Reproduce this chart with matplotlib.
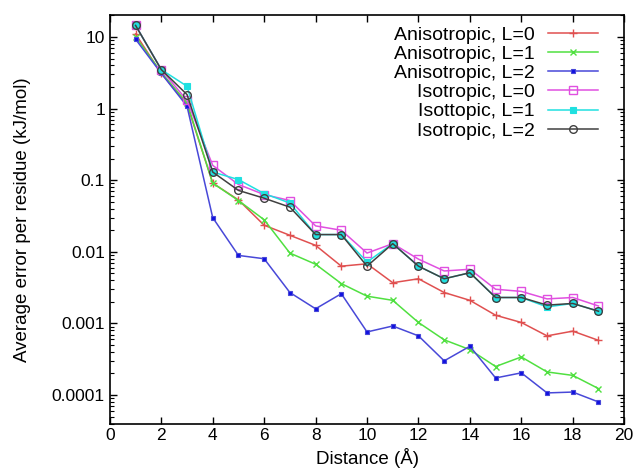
import numpy as np
import matplotlib
matplotlib.use("Agg")
from matplotlib import pyplot as plt
from matplotlib.ticker import LogLocator, FixedLocator, NullFormatter

plt.rcParams['font.family'] = ['Liberation Sans', 'DejaVu Sans']

distance = [1, 2, 3, 4, 5, 6, 7, 8, 9, 10, 11, 12, 13, 14, 15, 16, 17, 18, 19]

aniso_L0 = [11.0, 3.1, 1.15, 0.091, 0.053, 0.0235, 0.017, 0.0123, 0.0063, 0.0068,
            0.0037, 0.0042, 0.0027, 0.0021, 0.0013, 0.00103, 0.00067, 0.00078, 0.00058]
aniso_L1 = [10.0, 3.2, 1.2, 0.091, 0.052, 0.028, 0.0096, 0.0067, 0.0036, 0.0024,
            0.0021, 0.00103, 0.00059, 0.00043, 0.00025, 0.00034, 0.00021, 0.000188, 0.000123]
aniso_L2 = [9.3, 3.1, 1.08, 0.030, 0.0089, 0.008, 0.0027, 0.0016, 0.0026, 0.00076,
            0.00092, 0.00067, 0.0003, 0.00048, 0.000173, 0.000204, 0.000107, 0.00011, 0.00008]
iso_L0 = [14.5, 3.5, 1.3, 0.161, 0.087, 0.063, 0.052, 0.023, 0.020, 0.0096,
          0.013, 0.0079, 0.0054, 0.0057, 0.0030, 0.0028, 0.0022, 0.0023, 0.00175]
iso_L1 = [14.5, 3.5, 2.05, 0.13, 0.102, 0.065, 0.048, 0.0174, 0.0174, 0.0072,
          0.013, 0.0063, 0.0042, 0.0051, 0.0023, 0.0023, 0.0017, 0.0019, 0.00148]
iso_L2 = [14.5, 3.5, 1.57, 0.13, 0.072, 0.056, 0.042, 0.0174, 0.0174, 0.0063,
          0.013, 0.0063, 0.0042, 0.0051, 0.0023, 0.0023, 0.0018, 0.0019, 0.00148]

fig = plt.figure(figsize=(6.35, 4.74), dpi=100)
ax = fig.add_axes([0.173, 0.1065, 0.81, 0.861])

ax.plot(distance, aniso_L0, color='#e05050', marker='+', ms=6, mew=1.0, lw=1.1,
        label='Anisotropic, L=0')
ax.plot(distance, aniso_L1, color='#50e040', marker='x', ms=4.5, mew=1.0, lw=1.1,
        label='Anisotropic, L=1')
ax.plot(distance, aniso_L2, color='#4848d8', marker='s', ms=3.5, mew=0.8, lw=1.1,
        markerfacecolor='#1010e0', label='Anisotropic, L=2')
ax.plot(distance, iso_L0, color='#e050e0', marker='s', ms=5.5, mew=1.0, lw=1.1,
        markerfacecolor='none', label='Isotropic, L=0')
ax.plot(distance, iso_L1, color='#20e0e0', marker='s', ms=4.5, mew=0.8, lw=1.1,
        label='Isottopic, L=1')
ax.plot(distance, iso_L2, color='#404040', marker='o', ms=5.5, mew=1.0, lw=1.1,
        markerfacecolor='none', label='Isotropic, L=2')

ax.set_yscale('log')
ax.set_xlim(0, 20)
ax.set_ylim(4e-5, 20)
ax.xaxis.set_major_locator(FixedLocator(np.arange(0, 21, 2)))
ax.yaxis.set_minor_locator(LogLocator(base=10, subs=np.arange(2, 10), numticks=20))
ax.yaxis.set_minor_formatter(NullFormatter())
ax.set_yticks([1e-4, 1e-3, 1e-2, 1e-1, 1, 10])
ax.set_yticklabels(['0.0001', '0.001', '0.01', '0.1', '1', '10'])

ax.tick_params(which='both', direction='in', top=True, right=True, labelsize=12.5)
ax.tick_params(which='major', length=5, width=1)
ax.tick_params(which='minor', length=3, width=0.8)
for s in ax.spines.values():
    s.set_linewidth(1.2)

ax.set_xlabel('Distance (Å)', fontsize=13.5, labelpad=3)
ax.set_ylabel('Average error per residue (kJ/mol)', fontsize=13.5, labelpad=15)

ax.legend(loc='upper right', frameon=False, markerfirst=False, fontsize=14,
          handlelength=2.6, handletextpad=0.67, labelspacing=0.08,
          borderaxespad=0.3, bbox_to_anchor=(0.976, 1.007))

fig.savefig('out.png', dpi=100)
